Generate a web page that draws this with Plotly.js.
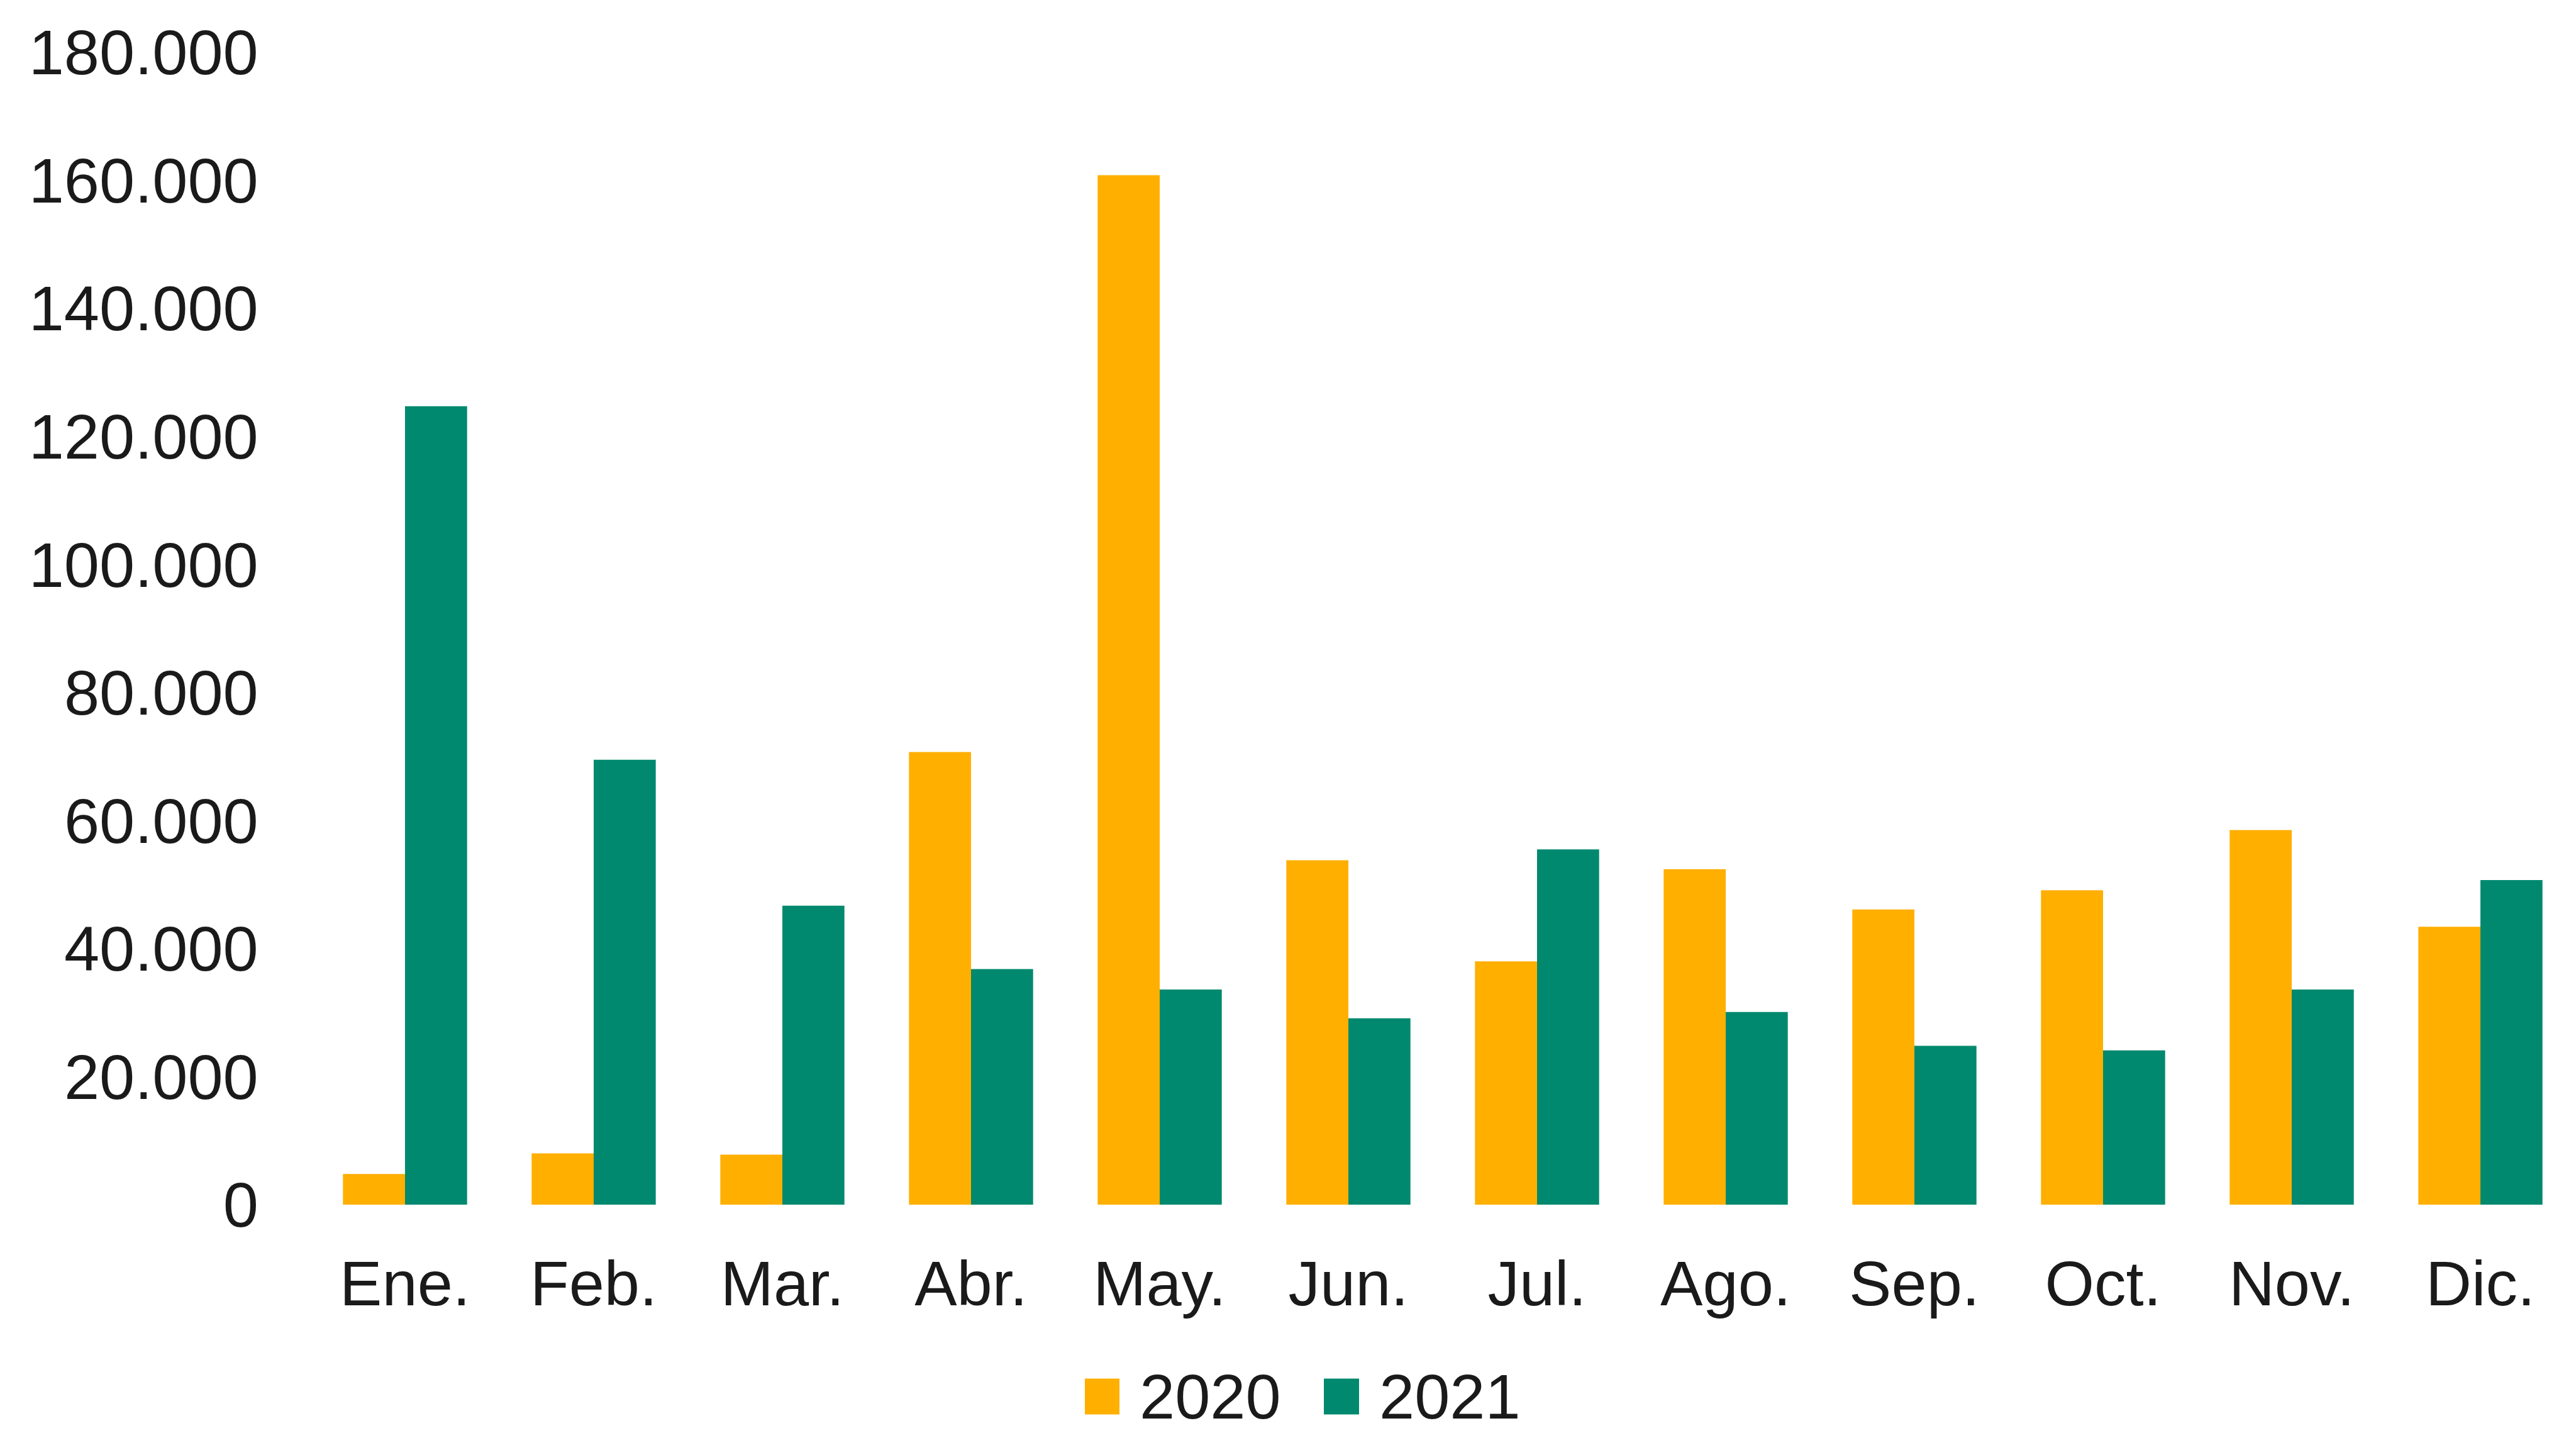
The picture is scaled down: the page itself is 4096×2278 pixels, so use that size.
<!DOCTYPE html>
<html>
<head>
<meta charset="utf-8">
<script src="https://cdn.plot.ly/plotly-3.0.1.min.js"></script>
<style>
  html, body { margin: 0; padding: 0; background: #ffffff; }
  #chart { width: 4096px; height: 2278px; }
</style>
</head>
<body>
<div id="chart"></div>
<script>
// ---- data ----
const months = ["Ene.", "Feb.", "Mar.", "Abr.", "May.", "Jun.", "Jul.", "Ago.", "Sep.", "Oct.", "Nov.", "Dic."];
const values2020 = [4800, 8000, 7800, 70700, 160800, 53800, 38000, 52400, 46100, 49100, 58500, 43400];
const values2021 = [124700, 69500, 46700, 36800, 33600, 29100, 55500, 30100, 24800, 24100, 33600, 50700];
const seriesNames = ["2020", "2021"];
const yTickVals = [0, 20000, 40000, 60000, 80000, 100000, 120000, 140000, 160000, 180000];
const yTickText = ["0", "20.000", "40.000", "60.000", "80.000", "100.000", "120.000", "140.000", "160.000", "180.000"];

// ---- style ----
const colors = ["#FFAF00", "#00896E"];
const fontFamily = "Liberation Sans, Arial, sans-serif";
const fs = 101;
const textColor = "#1a1a1a";

// plot area in window pixels
const W = 4096, H = 2278;
const M = { l: 494, r: 2, t: 83, b: 363 };
const pw = W - M.l - M.r, ph = H - M.t - M.b;
function px(x) { return (x - M.l) / pw; }
function py(y) { return (H - M.b - y) / ph; }

const traces = [
  { type: "bar", name: seriesNames[0], x: months, y: values2020, marker: { color: colors[0] }, showlegend: false },
  { type: "bar", name: seriesNames[1], x: months, y: values2021, marker: { color: colors[1] }, showlegend: false }
];

// legend drawn as boxes + labels below the plot
const legendBoxes = [[1725, 1780], [2105, 2161]];
const legendTextX = [1810, 2191];
const legendY = 2220, legendBoxH = 57;
const shapes = legendBoxes.map(function (b, i) {
  return {
    type: "rect", xref: "paper", yref: "paper", layer: "above",
    x0: px(b[0]), x1: px(b[1]),
    y0: py(legendY + legendBoxH / 2), y1: py(legendY - legendBoxH / 2),
    fillcolor: colors[i], line: { width: 0 }
  };
});
const annotations = seriesNames.map(function (n, i) {
  return {
    text: n, xref: "paper", yref: "paper", showarrow: false,
    x: px(legendTextX[i]), y: py(legendY), xanchor: "left", yanchor: "middle",
    font: { family: fontFamily, size: fs, color: textColor }
  };
});

const layout = {
  width: W,
  height: H,
  paper_bgcolor: "#ffffff",
  plot_bgcolor: "#ffffff",
  font: { family: fontFamily, size: fs, color: textColor },
  margin: { l: M.l, r: M.r, t: M.t, b: M.b, pad: 0 },
  barmode: "group",
  bargap: 0.342,
  bargroupgap: 0,
  showlegend: false,
  shapes: shapes,
  annotations: annotations,
  xaxis: {
    type: "category",
    range: [-0.5, 11.5],
    showgrid: false,
    zeroline: false,
    showline: false,
    ticks: "outside",
    ticklen: 38,
    tickcolor: "rgba(0,0,0,0)",
    tickfont: { family: fontFamily, size: fs, color: textColor },
    fixedrange: true
  },
  yaxis: {
    range: [0, 180000],
    tickvals: yTickVals,
    ticktext: yTickText,
    showgrid: false,
    zeroline: false,
    showline: false,
    ticks: "outside",
    ticklen: 62,
    tickcolor: "rgba(0,0,0,0)",
    tickfont: { family: fontFamily, size: fs, color: textColor },
    fixedrange: true
  }
};

Plotly.newPlot("chart", traces, layout, { displayModeBar: false, staticPlot: true });
</script>
</body>
</html>
